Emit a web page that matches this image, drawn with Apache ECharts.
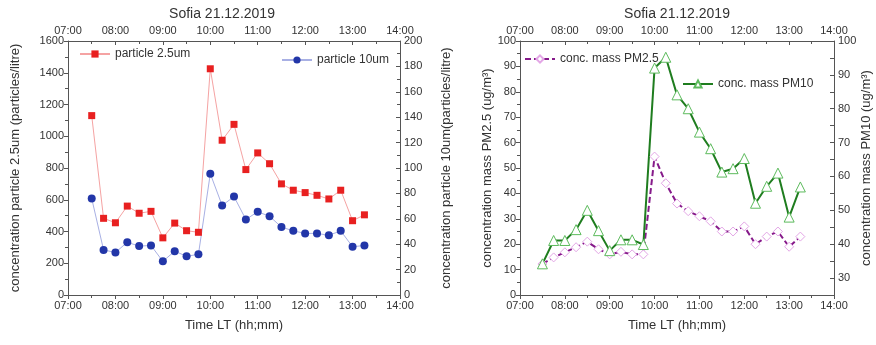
<!DOCTYPE html>
<html>
<head>
<meta charset="utf-8">
<script src="https://cdn.jsdelivr.net/npm/echarts@6/dist/echarts.min.js"></script>
<style>
  html, body { margin: 0; padding: 0; background: #fff; }
  #chart { width: 876px; height: 345px; }
</style>
</head>
<body>
<div id="chart"></div>
<script>
// sample times (local time)
const times = ['07:30', '07:45', '08:00', '08:15', '08:30', '08:45', '09:00', '09:15', '09:30', '09:45',
  '10:00', '10:15', '10:30', '10:45', '11:00', '11:15', '11:30', '11:45', '12:00', '12:15',
  '12:30', '12:45', '13:00', '13:15'];

// left chart: particle counts (particles/litre)
const particle25 = [1130, 483, 455, 560, 515, 527, 360, 453, 405, 395,
  1425, 975, 1075, 790, 895, 827, 700, 660, 645, 628, 605, 660, 468, 505];
const particle10 = [76, 35.5, 33.5, 41.5, 38.5, 39, 26.5, 34.5, 30.5, 32,
  95.5, 70.5, 77.5, 59.5, 65.5, 62, 53.5, 50.5, 48.5, 48.5, 47, 50.5, 38, 39];

// right chart: mass concentration (ug/m3)
const pm25 = [12.2, 14.8, 16.8, 18.8, 21, 18, 16, 17, 16, 16,
  54.5, 44, 36, 33, 31, 29, 25, 25, 27, 20, 23, 25, 19, 23];
const pm10 = [34.2, 41.1, 41.1, 44.3, 50, 44, 38.1, 41.3, 41.3, 39.9,
  92, 95.2, 84.1, 80, 73.1, 68.2, 61.3, 62.3, 65.3, 52.1, 57.1, 61, 48, 56.9];

const hourTicks = ['07:00', '08:00', '09:00', '10:00', '11:00', '12:00', '13:00', '14:00'];

const FONT = 'Liberation Sans, Arial, sans-serif';
const TXT = '#333';
const LINE = '#555';

const toHours = t => {
  const [h, m] = t.split(':');
  return +h + (+m) / 60;
};
const pairs = vals => times.map((t, i) => [toHours(t), vals[i]]);

const xAxisBase = (gridIndex, position, inside) => ({
  type: 'value',
  gridIndex,
  position,
  min: toHours(hourTicks[0]),
  max: toHours(hourTicks[hourTicks.length - 1]),
  interval: 1,
  axisLine: { show: true, onZero: false, lineStyle: { color: LINE } },
  axisTick: { show: true, inside, length: 4, lineStyle: { color: LINE } },
  minorTick: { show: true, splitNumber: 2, length: 3, lineStyle: { color: LINE } },
  splitLine: { show: false },
  axisLabel: {
    color: TXT, fontSize: 11, fontFamily: FONT, margin: 5,
    formatter: v => hourTicks.find(h => toHours(h) === v) || '',
  },
});

const yAxisBase = (gridIndex, position, min, max, interval, inside) => ({
  type: 'value',
  gridIndex,
  position,
  min, max, interval,
  axisLine: { show: true, onZero: false, lineStyle: { color: LINE } },
  axisTick: { show: true, inside, length: 4, lineStyle: { color: LINE } },
  minorTick: { show: true, splitNumber: 2, length: 3, lineStyle: { color: LINE } },
  splitLine: { show: false },
  axisLabel: { color: TXT, fontSize: 11, fontFamily: FONT, margin: 4, formatter: v => String(v) },
  nameLocation: 'middle',
  nameRotate: 90,
  nameTextStyle: { color: TXT, fontSize: 13, fontFamily: FONT },
});

const legendText = { fontSize: 12, color: TXT, fontFamily: FONT };

const option = {
  animation: false,
  backgroundColor: '#fff',
  title: [
    { text: 'Sofia 21.12.2019', left: 217, top: 2, textAlign: 'center',
      textStyle: { fontSize: 14, fontWeight: 'normal', color: TXT, fontFamily: FONT } },
    { text: 'Sofia 21.12.2019', left: 672, top: 2, textAlign: 'center',
      textStyle: { fontSize: 14, fontWeight: 'normal', color: TXT, fontFamily: FONT } },
  ],
  legend: [
    { data: ['particle 2.5um'], left: 79, top: 48, padding: 0, itemWidth: 30, itemHeight: 9,
      textStyle: legendText },
    { data: ['particle 10um'], left: 281, top: 54, padding: 0, itemWidth: 30, itemHeight: 9,
      textStyle: legendText },
    { data: ['conc. mass PM2.5'], left: 524, top: 53, padding: 0, itemWidth: 30, itemHeight: 9,
      textStyle: legendText },
    { data: ['conc. mass PM10'], left: 682, top: 78, padding: 0, itemWidth: 30, itemHeight: 9,
      textStyle: legendText },
  ],
  grid: [
    { left: 68, right: 476, top: 41, bottom: 50 },
    { left: 520, right: 42, top: 41, bottom: 50 },
  ],
  xAxis: [
    Object.assign(xAxisBase(0, 'bottom', false), {
      name: 'Time LT (hh;mm)', nameLocation: 'middle', nameGap: 24,
      nameTextStyle: { color: TXT, fontSize: 13, fontFamily: FONT },
    }),
    xAxisBase(0, 'top', true),
    Object.assign(xAxisBase(1, 'bottom', false), {
      name: 'Time LT (hh;mm)', nameLocation: 'middle', nameGap: 24,
      nameTextStyle: { color: TXT, fontSize: 13, fontFamily: FONT },
    }),
    xAxisBase(1, 'top', true),
  ],
  yAxis: [
    Object.assign(yAxisBase(0, 'left', 0, 1600, 200, false), {
      name: 'concentration particle 2.5um (particles/litre)', nameGap: 46,
    }),
    Object.assign(yAxisBase(0, 'right', 0, 200, 20, true), {
      name: 'concentration particle 10um(particles/litre)', nameGap: 40,
    }),
    Object.assign(yAxisBase(1, 'left', 0, 100, 10, false), {
      name: 'concentration mass PM2.5 (ug/m³)', nameGap: 24,
    }),
    Object.assign(yAxisBase(1, 'right', 25, 100, 5, true), {
      name: 'concentration mass PM10 (ug/m³)', nameGap: 26,
      minorTick: { show: false },
      axisLabel: {
        color: TXT, fontSize: 11, fontFamily: FONT, margin: 4,
        formatter: v => (v % 10 === 0 ? String(v) : ''),
      },
    }),
  ],
  series: [
    {
      name: 'particle 2.5um', type: 'line', xAxisIndex: 0, yAxisIndex: 0,
      data: pairs(particle25),
      symbol: 'rect', symbolSize: 7,
      lineStyle: { color: '#f5a3a3', width: 1 },
      itemStyle: { color: '#e82020' },
    },
    {
      name: 'particle 10um', type: 'line', xAxisIndex: 0, yAxisIndex: 1,
      data: pairs(particle10),
      symbol: 'circle', symbolSize: 8,
      lineStyle: { color: '#a8b0e4', width: 1 },
      itemStyle: { color: '#2236a8' },
    },
    {
      name: 'conc. mass PM2.5', type: 'line', xAxisIndex: 2, yAxisIndex: 2,
      data: pairs(pm25),
      symbol: 'diamond', symbolSize: 9,
      lineStyle: { color: '#861a8a', width: 2, type: [6, 3] },
      itemStyle: { color: '#fff', borderColor: '#e3a6e6', borderWidth: 1 },
    },
    {
      name: 'conc. mass PM10', type: 'line', xAxisIndex: 2, yAxisIndex: 3,
      data: pairs(pm10),
      symbol: 'triangle', symbolSize: 10,
      lineStyle: { color: '#1f7d1f', width: 2 },
      itemStyle: { color: '#fff', borderColor: '#5dbb5d', borderWidth: 1 },
    },
  ],
};

const chart = echarts.init(document.getElementById('chart'));
chart.setOption(option);
</script>
</body>
</html>
